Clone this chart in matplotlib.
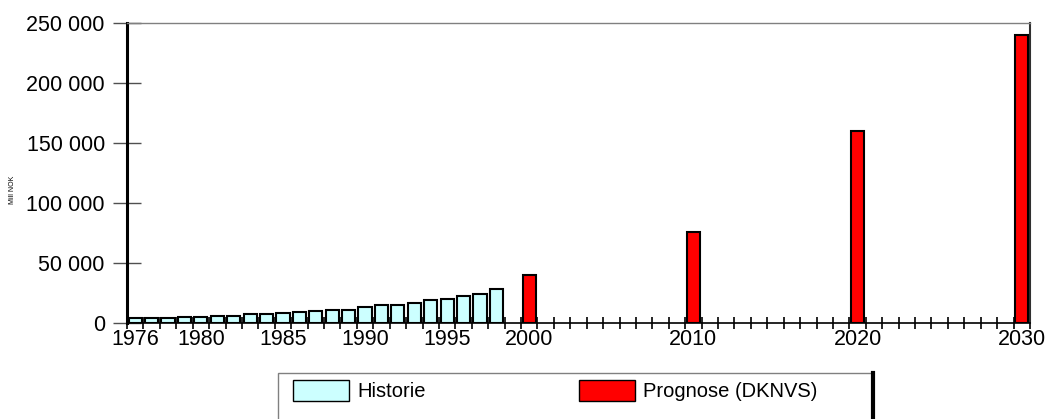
import matplotlib
matplotlib.use("Agg")
import matplotlib.pyplot as plt
from matplotlib.patches import Patch, Rectangle
from matplotlib.lines import Line2D
from matplotlib.ticker import FuncFormatter, FixedLocator

plt.rcParams['font.family'] = ['Liberation Sans', 'DejaVu Sans']

# Data
first_year = 1976
last_year = 2030
hist_years = list(range(1976, 1999))
hist_values = [3900, 4400, 4200, 4700, 5000, 5800, 5800, 7200, 7500, 8300,
               9200, 10000, 10800, 11100, 13000, 15000, 15300, 16700, 19400,
               20000, 22200, 24400, 28000]
prog_years = [2000, 2010, 2020, 2030]
prog_values = [40000, 76000, 160000, 240000]
label_years = [1976, 1980, 1985, 1990, 1995, 2000, 2010, 2020, 2030]
y_ticks = [0, 50000, 100000, 150000, 200000, 250000]
legend_labels = ['Historie', 'Prognose (DKNVS)']

col_hist = '#CCFFFF'
col_prog = '#FF0000'

W, H = 1045, 419
fig = plt.figure(figsize=(W / 100, H / 100), dpi=100)
ax = fig.add_axes([127 / W, 1 - 323 / H, (1030 - 127) / W, (323 - 23) / H])

pos_hist = [y - first_year for y in hist_years]
pos_prog = [y - first_year for y in prog_years]
ax.bar(pos_hist, hist_values, width=0.8, color=col_hist, edgecolor='black',
       linewidth=1.5, zorder=3)
ax.bar(pos_prog, prog_values, width=0.8, color=col_prog, edgecolor='black',
       linewidth=1.5, zorder=3)

n_cat = last_year - first_year + 1
ax.set_xlim(-0.5, n_cat - 0.5)
ax.set_ylim(0, 250000)

# x axis: labels on selected years, ticks at category boundaries
ax.xaxis.set_major_locator(FixedLocator([y - first_year for y in label_years]))
ax.set_xticklabels([str(y) for y in label_years], fontsize=15.5)
ax.tick_params(axis='x', which='major', length=0, pad=4)
ax.xaxis.set_minor_locator(FixedLocator([i - 0.5 for i in range(n_cat + 1)]))
ax.tick_params(axis='x', which='minor', direction='inout', length=8,
               width=1.2, color='black')

# y axis
ax.yaxis.set_major_locator(FixedLocator(y_ticks))
ax.yaxis.set_major_formatter(
    FuncFormatter(lambda v, p: f'{v:,.0f}'.replace(',', ' ')))
ax.tick_params(axis='y', direction='inout', length=20, width=1,
               color='#505050', labelsize=15.5, pad=6)

ax.spines['left'].set_linewidth(2.2)
ax.spines['left'].set_color('black')
ax.spines['bottom'].set_linewidth(1.2)
ax.spines['bottom'].set_color('black')
ax.spines['top'].set_linewidth(1)
ax.spines['top'].set_color('#808080')
ax.spines['right'].set_linewidth(1.5)
ax.spines['right'].set_color('#303030')

fig.text(13 / W, 1 - 190 / H, 'Mill NOK', rotation=90, fontsize=5,
         ha='center', va='center')

# Legend box
box_l, box_r, box_t = 278, 873, 373
fig.patches.append(Rectangle((box_l / W, -0.05), (box_r - box_l) / W,
                             0.05 + 1 - box_t / H, transform=fig.transFigure,
                             facecolor='white', edgecolor='#808080',
                             linewidth=1))
fig.add_artist(Line2D([box_r / W, box_r / W], [0, 1 - box_t / H],
                      transform=fig.transFigure, color='black', linewidth=3))

handles = [Patch(facecolor=col_hist, edgecolor='black', linewidth=1),
           Patch(facecolor=col_prog, edgecolor='black', linewidth=1)]
fig.legend(handles, legend_labels, loc='upper left',
           bbox_to_anchor=(293 / W, 1 - 380 / H), ncol=2, frameon=False,
           fontsize=14.5, handlelength=2.8, handleheight=1.2,
           handletextpad=0.4, columnspacing=7.6, borderpad=0,
           borderaxespad=0)

fig.savefig('out.png', dpi=100)
